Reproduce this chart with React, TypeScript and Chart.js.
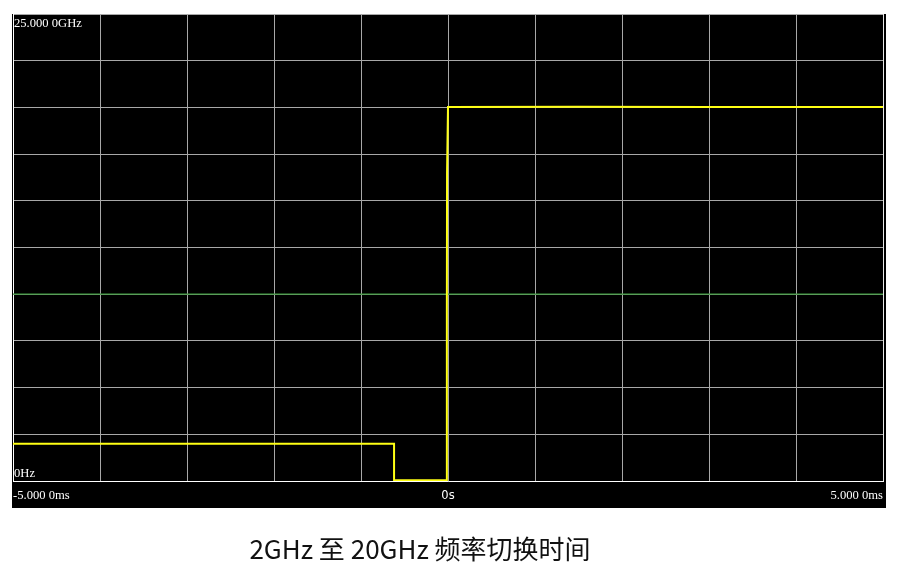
import React, { useEffect, useRef } from "react";
import { Chart, registerables } from "chart.js";

Chart.register(...registerables);

// Sweep trace (time in ms, frequency in GHz)
const traceTimes = [-5, -0.62, -0.62, -0.015, -0.013, -0.011, -0.002, 0.0, 1.5, 3.0, 5.0];
const traceFreqs = [2.0, 2.0, 0.04, 0.04, 9.0, 16.5, 16.5, 20.02, 20.03, 20.02, 20.02];

// Green marker level (GHz)
const markerTimes = [-5, 5];
const markerFreqs = [10, 10];

const xMin = -5;
const xMax = 5;
const xStep = 1;
const yMin = 0;
const yMax = 25;
const yStep = 2.5;

const xTickValues = [-5, 0, 5];
const xTickLabels = ["-5.000 0ms", "0s", "5.000 0ms"];
const yTopLabel = "25.000 0GHz";
const yBottomLabel = "0Hz";
const caption = "2GHz 至 20GHz 频率切换时间";

export default function App() {
  const ref = useRef<HTMLCanvasElement | null>(null);

  useEffect(() => {
    if (!ref.current) return;

    const serif = "12.6px 'Liberation Serif', 'DejaVu Serif', serif";

    const framePlugin = {
      id: "frame",
      beforeDraw(chart: any) {
        const ctx = chart.ctx;
        const a = chart.chartArea;
        ctx.save();
        ctx.fillStyle = "#ffffff";
        ctx.fillRect(0, 0, chart.width, chart.height);
        ctx.fillStyle = "#000000";
        ctx.fillRect(a.left - 1, a.top, a.right - a.left + 4, a.bottom - a.top + 27);
        ctx.restore();
      },
      afterDraw(chart: any) {
        const ctx = chart.ctx;
        const a = chart.chartArea;
        const xs = chart.scales.x;
        const ys = chart.scales.y;
        ctx.save();
        // right border
        ctx.strokeStyle = "#e8e8e8";
        ctx.lineWidth = 1;
        ctx.beginPath();
        ctx.moveTo(Math.round(a.right) + 0.5, a.top);
        ctx.lineTo(Math.round(a.right) + 0.5, a.bottom);
        ctx.stroke();

        // y labels inside plot
        ctx.fillStyle = "#ffffff";
        ctx.font = serif;
        ctx.textAlign = "left";
        ctx.textBaseline = "alphabetic";
        ctx.fillText(yTopLabel, a.left + 1, ys.getPixelForValue(yMax) + 13);
        ctx.fillText(yBottomLabel, a.left + 1, ys.getPixelForValue(yMin) - 4);

        // x labels below axis
        xTickValues.forEach((v, i) => {
          const px = xs.getPixelForValue(v);
          const y = a.bottom + 18;
          if (i === 0) {
            ctx.font = serif;
            ctx.textAlign = "left";
            ctx.fillText(xTickLabels[i], px, y);
          } else if (i === xTickValues.length - 1) {
            ctx.font = serif;
            ctx.textAlign = "right";
            ctx.fillText(xTickLabels[i], px, y);
          } else {
            ctx.font = "11.5px 'DejaVu Sans', sans-serif";
            ctx.textAlign = "center";
            ctx.fillText(xTickLabels[i], px, y);
          }
        });

        // caption
        ctx.fillStyle = "#111111";
        ctx.font = "26px 'Noto Sans CJK SC', 'Noto Sans', sans-serif";
        ctx.textAlign = "center";
        ctx.fillText(caption, 420, 559);
        ctx.restore();
      },
    };

    const chart = new Chart(ref.current, {
      type: "scatter",
      data: {
        datasets: [
          {
            label: "marker",
            data: markerTimes.map((t, i) => ({ x: t, y: markerFreqs[i] })),
            showLine: true,
            borderColor: "#3f9a3f",
            borderWidth: 1.2,
            pointRadius: 0,
            order: 2,
          },
          {
            label: "trace",
            data: traceTimes.map((t, i) => ({ x: t, y: traceFreqs[i] })),
            showLine: true,
            borderColor: "#ffff14",
            borderWidth: 2,
            pointRadius: 0,
            tension: 0,
            order: 1,
          },
        ],
      },
      options: {
        animation: false,
        responsive: false,
        devicePixelRatio: 1,
        layout: { padding: { left: 13, top: 14, right: 17, bottom: 92 } },
        plugins: {
          legend: { display: false },
          tooltip: { enabled: false },
          title: { display: false },
        },
        scales: {
          x: {
            type: "linear",
            min: xMin,
            max: xMax,
            ticks: { display: false, stepSize: xStep },
            grid: { color: "#a8a8a8", lineWidth: 1, drawTicks: false },
            border: { color: "#ffffff", width: 1 },
          },
          y: {
            type: "linear",
            min: yMin,
            max: yMax,
            ticks: { display: false, stepSize: yStep },
            grid: { color: "#a8a8a8", lineWidth: 1, drawTicks: false },
            border: { color: "#ffffff", width: 1 },
          },
        },
      },
      plugins: [framePlugin],
    });

    return () => chart.destroy();
  }, []);

  return (
    <div style={{ position: "fixed", left: 0, top: 0, width: 900, height: 573 }}>
      <canvas ref={ref} width={900} height={573} style={{ display: "block" }} />
    </div>
  );
}
